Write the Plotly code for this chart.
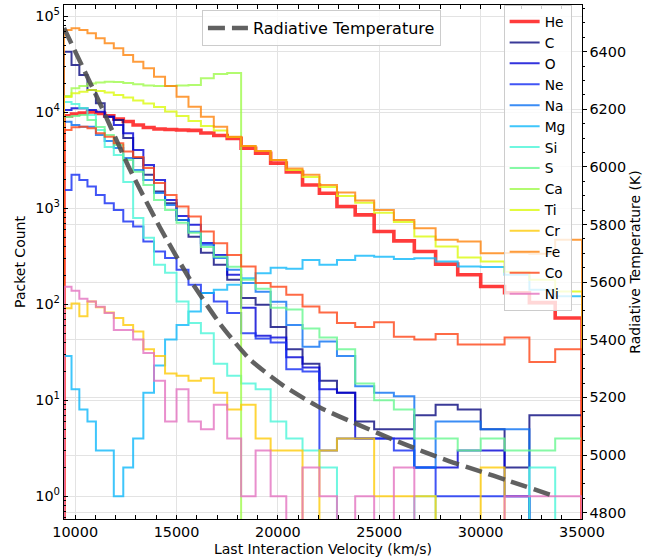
import numpy as np
import plotly.graph_objects as go

# ---------------- data ----------------
V_MIN, V_MAX, N_BINS = 9450, 35000, 34          # velocity bins (km/s), log-spaced
edges = np.geomspace(V_MIN, V_MAX, N_BINS + 1)

elements = ["He", "C", "O", "Ne", "Na", "Mg", "Si", "S", "Ca", "Ti", "Cr", "Fe", "Co", "Ni"]

He = [9160, 9600, 9840, 10070, 9720, 9160, 8520, 8020, 7380, 6950, 6700, 6620, 6540, 6470, 6090, 5730, 5340,
      4220, 3740, 2950, 2390, 1750, 1435, 1042, 853, 573, 458, 354, 262, 203, 153, 132, 104, 72]
C = [42730, 31060, 24440, 17060, 12410, 9000, 8320, 5405, 3347, 2228, 1492, 1130, 757, 504, 344, 258, 180,
     116, 99, 58, 34, 24, 16, 12, 6, 5, 5, 7, 9, 8, 5, 2, 7, 7]
O = [10570, 11010, 11010, 10570, 10140, 9000, 7377, 6044, 4053, 2831, 1975, 1223, 833, 673, 436, 327, 203,
     92, 47, 45, 28, 22, 13, 12, 4, 4, 4, 2, 2, 3, 3, 1, 0, 0]
Ne = [1553, 2228, 1975, 1683, 1377, 1130, 962, 727, 645, 450, 354, 303, 229, 160, 131, 107, 81,
      50, 44, 40, 21, 20, 3, 4, 4, 4, 3, 2, 1, 1, 1, 1, 0, 0]
Na = [7985, 7377, 7080, 7080, 5806, 5027, 4253, 3347, 2510, 1975, 1445, 1084, 757, 568, 416, 304, 229,
      167, 135, 106, 61, 36, 41, 29, 14, 12, 11, 2, 6, 6, 5, 5, 0, 0]
Mg = [29, 13, 8, 6, 3, 3, 1, 2, 4, 12, 23, 43, 61, 84, 131, 142, 160,
      187, 211, 240, 234, 290, 258, 290, 320, 312, 297, 301, 279, 247, 245, 203, 142, 121]
Si = [12790, 12190, 11080, 9380, 6545, 4353, 3597, 1882, 794, 492, 258, 213, 107, 64, 50, 24, 18,
      15, 13, 6, 4, 3, 2, 0, 0, 0, 0, 1, 0, 0, 0, 0, 2, 0]
S = [8940, 9160, 9380, 8320, 7030, 5806, 4570, 3190, 2394, 1750, 1223, 962, 705, 555, 396, 312, 246,
     180, 145, 92, 88, 56, 45, 34, 15, 10, 8, 4, 4, 3, 4, 3, 3, 4]
Ca = [14790, 17770, 18780, 19920, 20410, 20810, 20660, 20170, 19550, 19000, 18780, 18780, 19000, 19230, 22600,
      25040, 25640, 0, 0, 0, 0, 0, 0, 0, 0, 0, 0, 0, 0, 0, 0, 0, 0, 0]
Ti = [14430, 15770, 16380, 17060, 16660, 16070, 15140, 14260, 13270, 12350, 11350, 10190, 9160, 8120, 7195, 6467,
      5535, 4456, 3955, 3190, 2510, 2123, 1670, 1345, 1140, 896, 721, 508, 399, 307, 279, 218, 180, 136]
Cr = [91, 102, 75, 107, 93, 82, 72, 61, 52, 34, 29, 19, 18, 16, 17, 12, 8,
      9, 4, 3, 3, 0, 3, 4, 4, 1, 1, 1, 0, 0, 2, 0, 0, 0]
Fe = [71920, 74850, 71920, 66440, 58920, 52250, 46330, 39460, 33630, 28710, 23460, 18780, 14530, 11430, 9000,
      7080, 5571, 4456, 3955, 3190, 2603, 2228, 1750, 1456, 1203, 962, 757, 621, 469, 450, 341, 343, 335, 469]
Co = [6545, 6982, 7080, 6815, 6044, 5571, 4756, 3891, 3427, 2633, 1836, 1377, 1042, 820, 573, 433, 327,
      247, 167, 152, 126, 95, 82, 64, 58, 65, 46, 43, 49, 38, 38, 45, 25, 34]
Ni = [152, 138, 114, 107, 94, 81, 54, 54, 43, 31, 16, 6, 13, 6, 5, 9, 4,
      1, 3, 1, 0, 2, 1, 0, 1, 0, 2, 0, 0, 0, 0, 1, 1, 1]

counts = {"He": He, "C": C, "O": O, "Ne": Ne, "Na": Na, "Mg": Mg, "Si": Si, "S": S,
          "Ca": Ca, "Ti": Ti, "Cr": Cr, "Fe": Fe, "Co": Co, "Ni": Ni}

colors = {
    "He": "rgba(255,10,10,0.8)", "C": "rgba(9,9,126,0.8)", "O": "rgba(0,0,212,0.8)",
    "Ne": "rgba(17,42,242,0.8)", "Na": "rgba(10,112,242,0.8)", "Mg": "rgba(15,184,250,0.8)",
    "Si": "rgba(75,245,216,0.8)", "S": "rgba(104,247,144,0.8)", "Ca": "rgba(159,250,76,0.8)",
    "Ti": "rgba(220,250,14,0.8)", "Cr": "rgba(254,202,9,0.8)", "Fe": "rgba(254,131,11,0.8)",
    "Co": "rgba(254,69,22,0.8)", "Ni": "rgba(227,115,192,0.8)",
}

# radiative temperature profile
v_temp = [9450, 11230, 12710, 14190, 15670, 17140, 18620, 20250, 22070, 24040, 25670, 27140, 28470, 29950, 31280, 33650]
t_rad = [6482, 6219, 5990, 5789, 5609, 5456, 5332, 5242, 5165, 5103, 5054, 5013, 4978, 4944, 4913, 4857]

# ---------------- figure ----------------
FONT = "DejaVu Sans"
fig = go.Figure()

FLOOR = 1e-3  # zero counts drawn below the axis (log scale)
for el in elements:
    c = [v if v > 0 else FLOOR for v in counts[el]]
    xs = [edges[0]] + list(edges) + [edges[-1]]
    ys = [FLOOR] + c + [c[-1], FLOOR]
    fig.add_trace(go.Scatter(
        x=xs, y=ys, mode="lines", name=el,
        line=dict(shape="hv", color=colors[el], width=3.6 if el == "He" else 2),
        legend="legend",
    ))

fig.add_trace(go.Scatter(
    x=v_temp, y=t_rad, mode="lines", name="Radiative Temperature", yaxis="y2",
    line=dict(color="rgba(80,80,80,0.9)", width=4.5, dash="17px,7px", shape="spline", smoothing=0.6),
    legend="legend2",
))

decades = [0, 1, 2, 3, 4, 5]
minor_vals = [m * 10 ** d for d in range(-1, 6) for m in range(2, 10)]

fig.update_layout(
    width=665, height=559,
    margin=dict(l=64, r=83, t=5, b=40),
    paper_bgcolor="white", plot_bgcolor="white",
    font=dict(family=FONT, size=14, color="black"),
    xaxis=dict(
        range=[V_MIN, V_MAX], tick0=0, dtick=5000, tickformat="d", automargin=False,
        ticks="inside", ticklen=4, tickcolor="black", mirror="allticks",
        showline=True, linecolor="black", linewidth=1.2,
        showgrid=True, gridcolor="#e3e3e3", gridwidth=1,
        zeroline=False, tickfont=dict(size=14.4),
        minor=dict(dtick=1000, ticks="inside", ticklen=2, tickcolor="black", showgrid=False),
        title=dict(text="Last Interaction Velocity (km/s)", font=dict(size=14), standoff=4),
    ),
    yaxis=dict(
        type="log", range=[np.log10(0.58), np.log10(1.31e5)], automargin=False,
        tickvals=[10 ** d for d in decades], ticktext=[f"10<sup>{d}</sup>" for d in decades],
        ticks="inside", ticklen=4, tickcolor="black",
        showline=True, linecolor="black", linewidth=1.2, mirror=True,
        showgrid=True, gridcolor="#e3e3e3", gridwidth=1, zeroline=False,
        tickfont=dict(size=14.4),
        minor=dict(tickvals=minor_vals, ticks="inside", ticklen=2, tickcolor="black", showgrid=False),
        title=dict(text="Packet Count", font=dict(size=14), standoff=6),
    ),
    yaxis2=dict(
        overlaying="y", side="right", range=[4778, 6562], dtick=200, tick0=0, automargin=False,
        ticks="outside", ticklen=3.5, tickcolor="black",
        showline=True, linecolor="black", linewidth=1.2,
        showgrid=True, gridcolor="#e3e3e3", gridwidth=1, zeroline=False,
        tickfont=dict(size=14.4),
        minor=dict(dtick=50, ticks="outside", ticklen=2, tickcolor="black", showgrid=False),
        title=dict(text="Radiative Temperature (K)", font=dict(size=14), standoff=5),
    ),
    legend=dict(
        x=0.98, y=1.0, xanchor="right", yanchor="top",
        bgcolor="rgba(255,255,255,0.8)", bordercolor="#cccccc", borderwidth=1,
        font=dict(size=13.8),
    ),
    legend2=dict(
        x=0.497, y=0.99, xanchor="center", yanchor="top",
        bgcolor="rgba(255,255,255,0.8)", bordercolor="#cccccc", borderwidth=1,
        font=dict(size=16), itemwidth=40,
    ),
)

fig.write_html("out.html", config={"displayModeBar": False},
               post_script="document.body.style.margin='0px';document.body.style.padding='0px';")
